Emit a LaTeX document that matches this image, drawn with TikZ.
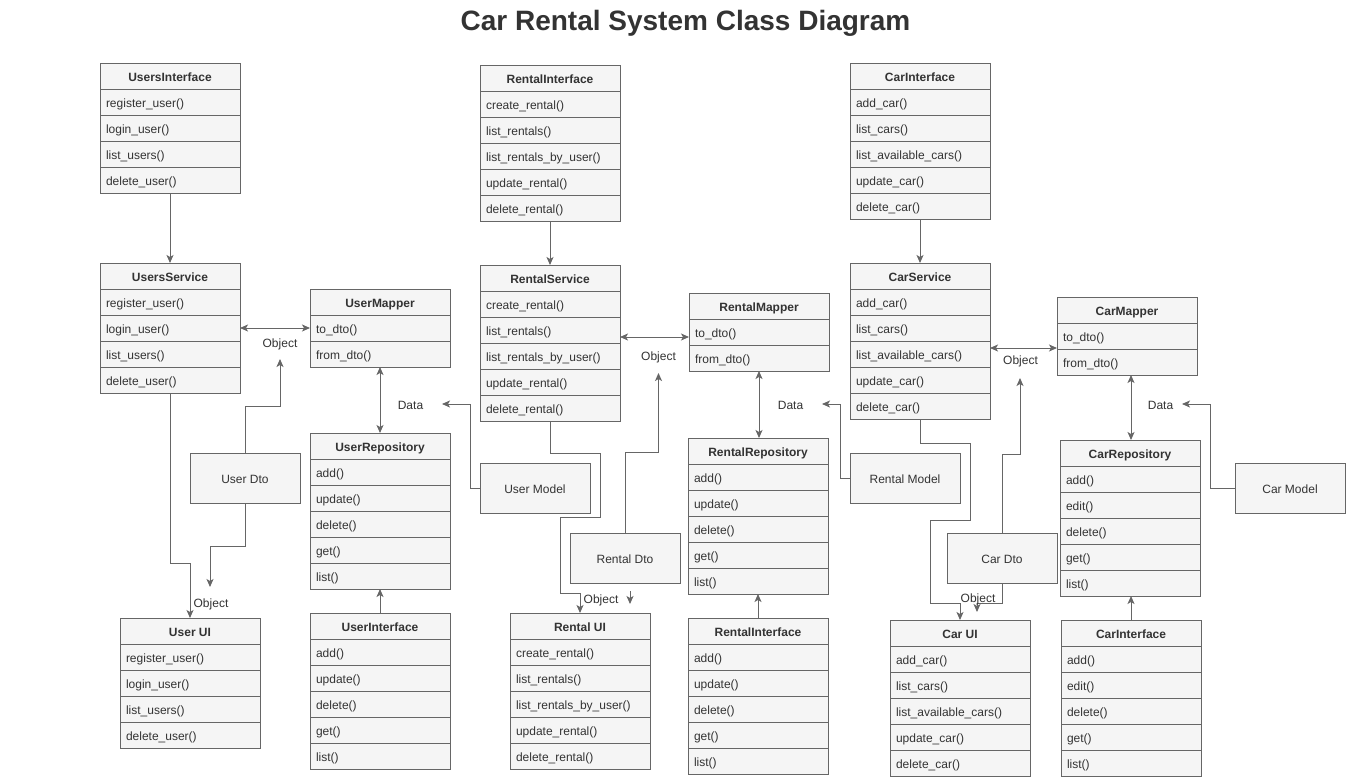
\documentclass[tikz,border=0pt]{standalone}
\usepackage{fontspec}
\setmainfont{Liberation Sans}
\usetikzlibrary{arrows.meta}
\definecolor{boxfill}{HTML}{F5F5F5}
\definecolor{linec}{HTML}{666666}
\definecolor{txtc}{HTML}{333333}
\tikzset{
  classframe/.style={draw=linec, fill=boxfill, line width=1pt, minimum width=140pt, inner sep=0pt, outer sep=0pt, anchor=north west},
  classhdr/.style={draw=linec, fill=boxfill, line width=1pt, minimum width=140pt, minimum height=26pt, inner sep=0pt, outer sep=0pt, anchor=north west, font=\fontsize{12}{14}\selectfont\bfseries, text=txtc, text height=12pt, text depth=1pt},
  classrow/.style={draw=linec, fill=boxfill, line width=1pt, text width=128pt, inner xsep=6pt, inner ysep=0pt, minimum height=26pt, outer sep=0pt, anchor=north west, align=left, font=\fontsize{12}{14}\selectfont, text=txtc, text height=11pt, text depth=1pt},
  plainbox/.style={draw=linec, fill=boxfill, line width=1pt, minimum width=110pt, minimum height=50pt, inner sep=0pt, outer sep=0pt, font=\fontsize{12}{14}\selectfont, text=txtc, anchor=north west, text height=11.5pt, text depth=1pt},
  lbl/.style={font=\fontsize{12}{14}\selectfont, text=txtc, inner sep=1pt, yshift=-1.5pt},
  conn/.style={draw=linec, line width=1pt, -{Stealth[length=8pt,width=7pt,inset=2pt]}},
  bconn/.style={draw=linec, line width=1pt, {Stealth[length=8pt,width=7pt,inset=2pt]}-{Stealth[length=8pt,width=7pt,inset=2pt]}},
}
\newcommand{\umlclass}[6]{%
  \node[classframe, minimum height={(#4+1)*26pt}] (#1) at (#2,#3) {};
  \node[classhdr] (#1-h) at (#2,#3) {#5};
  \foreach \itm [count=\i] in {#6} {
    \node[classrow] (#1-\i) at (#2,#3+26*\i) {\itm};
  }
}
\begin{document}
\begin{tikzpicture}[x=1pt,y=-1pt]
\fill[white] (0,0) rectangle (1370,779);
\useasboundingbox (0,0) rectangle (1370,779);

\node[font=\fontsize{28}{32}\selectfont\bfseries, text=txtc] (title) at (685.5,23) {Car Rental System Class Diagram};

% ---------- Users ----------
\umlclass{uif}{100}{63}{4}{UsersInterface}{register\_user(),login\_user(),list\_users(),delete\_user()}
\umlclass{usvc}{100}{263}{4}{UsersService}{register\_user(),login\_user(),list\_users(),delete\_user()}
\umlclass{umap}{310}{289}{2}{UserMapper}{to\_dto(),from\_dto()}
\umlclass{urepo}{310}{433}{5}{UserRepository}{add(),update(),delete(),get(),list()}
\umlclass{uint}{310}{613}{5}{UserInterface}{add(),update(),delete(),get(),list()}
\umlclass{uui}{120}{618}{4}{User UI}{register\_user(),login\_user(),list\_users(),delete\_user()}
\node[plainbox] (udto) at (190,453) {User Dto};
\node[plainbox] (umodel) at (480,463) {User Model};

% ---------- Rental ----------
\umlclass{rif}{480}{65}{5}{RentalInterface}{create\_rental(),list\_rentals(),list\_rentals\_by\_user(),update\_rental(),delete\_rental()}
\umlclass{rsvc}{480}{265}{5}{RentalService}{create\_rental(),list\_rentals(),list\_rentals\_by\_user(),update\_rental(),delete\_rental()}
\umlclass{rmap}{689}{293}{2}{RentalMapper}{to\_dto(),from\_dto()}
\umlclass{rrepo}{688}{438}{5}{RentalRepository}{add(),update(),delete(),get(),list()}
\umlclass{rint}{688}{618}{5}{RentalInterface}{add(),update(),delete(),get(),list()}
\umlclass{rui}{510}{613}{5}{Rental UI}{create\_rental(),list\_rentals(),list\_rentals\_by\_user(),update\_rental(),delete\_rental()}
\node[plainbox] (rdto) at (570,533) {Rental Dto};
\node[plainbox] (rmodel) at (850,453) {Rental Model};

% ---------- Car ----------
\umlclass{cif}{850}{63}{5}{CarInterface}{add\_car(),list\_cars(),list\_available\_cars(),update\_car(),delete\_car()}
\umlclass{csvc}{850}{263}{5}{CarService}{add\_car(),list\_cars(),list\_available\_cars(),update\_car(),delete\_car()}
\umlclass{cmap}{1057}{297}{2}{CarMapper}{to\_dto(),from\_dto()}
\umlclass{crepo}{1060}{440}{5}{CarRepository}{add(),edit(),delete(),get(),list()}
\umlclass{cint}{1061}{620}{5}{CarInterface}{add(),edit(),delete(),get(),list()}
\umlclass{cui}{890}{620}{5}{Car UI}{add\_car(),list\_cars(),list\_available\_cars(),update\_car(),delete\_car()}
\node[plainbox] (cdto) at (947,533) {Car Dto};
\node[plainbox] (cmodel) at (1235,463) {Car Model};

% ---------- Users connectors ----------
\draw[conn] (uif.south) -- (usvc.north);
\draw[bconn] (usvc-2.east) -- (umap-1.west);
\coordinate (udtoup) at (280,359);
\draw[conn] (udto.north) -- (245,406) -- (280,406) -- (udtoup);
\coordinate (udtodn) at (210,587);
\draw[conn] (udto.south) -- (245,546) -- (210,546) -- (udtodn);
\draw[conn] (usvc.south) -- (170,563) -- (190,563) -- (uui.north);
\draw[bconn] (umap.south) -- (urepo.north);
\coordinate (udataend) at (442,404);
\draw[conn] (umodel.west) -- (470,488) -- (470,404) -- (udataend);
\draw[conn] (uint.north) -- (urepo.south);
\node[lbl] (uobj1) at (280,343) {Object};
\node[lbl] (uobj2) at (211,603) {Object};
\node[lbl] (udata) at (410.5,404) {Data};

% ---------- Rental connectors ----------
\draw[conn] (rif.south) -- (rsvc.north);
\draw[bconn] (rsvc.east |- 0,337) -- (rmap.west |- 0,337);
\coordinate (rdtoup) at (658.5,373);
\draw[conn] (rdto.north) -- (625,452) -- (658.5,452) -- (rdtoup);
\draw[conn] (rsvc.south) -- (550,453) -- (600,453) -- (600,517) -- (560,517) -- (560,593) -- (580,593) -- (rui.north);
\coordinate (rstubA) at (630,591);
\coordinate (rstubB) at (630,604);
\draw[conn] (rstubA) -- (rstubB);
\draw[bconn] (rmap.south) -- (rmap.south |- rrepo.north);
\coordinate (rdataend) at (822,404);
\draw[conn] (rmodel.west) -- (840,478) -- (840,404) -- (rdataend);
\draw[conn] (rint.north) -- (rrepo.south);
\node[lbl] (robj1) at (658.5,356) {Object};
\node[lbl] (robj2) at (601,599) {Object};
\node[lbl] (rdata) at (790.5,404) {Data};

% ---------- Car connectors ----------
\draw[conn] (cif.south) -- (csvc.north);
\draw[bconn] (csvc.east |- 0,348) -- (cmap.west |- 0,348);
\coordinate (cdtoup) at (1020,378);
\draw[conn] (cdto.north) -- (1002,454) -- (1020,454) -- (cdtoup);
\draw[conn] (csvc.south) -- (920,443) -- (970,443) -- (970,520) -- (930,520) -- (930,603) -- (960,603) -- (cui.north);
\coordinate (cdtodn) at (977,612);
\draw[conn] (cdto.south) -- (1002,603) -- (977,603) -- (cdtodn);
\draw[bconn] (cmap.south -| 1131,0) -- (crepo.north -| 1131,0);
\coordinate (cdataend) at (1182,404);
\draw[conn] (cmodel.west) -- (1210,488) -- (1210,404) -- (cdataend);
\draw[conn] (cint.north) -- (crepo.south -| cint.north);
\node[lbl] (cobj1) at (1020.5,360) {Object};
\node[lbl] (cobj2) at (978,598) {Object};
\node[lbl] (cdata) at (1160.5,404) {Data};
\end{tikzpicture}
\end{document}
